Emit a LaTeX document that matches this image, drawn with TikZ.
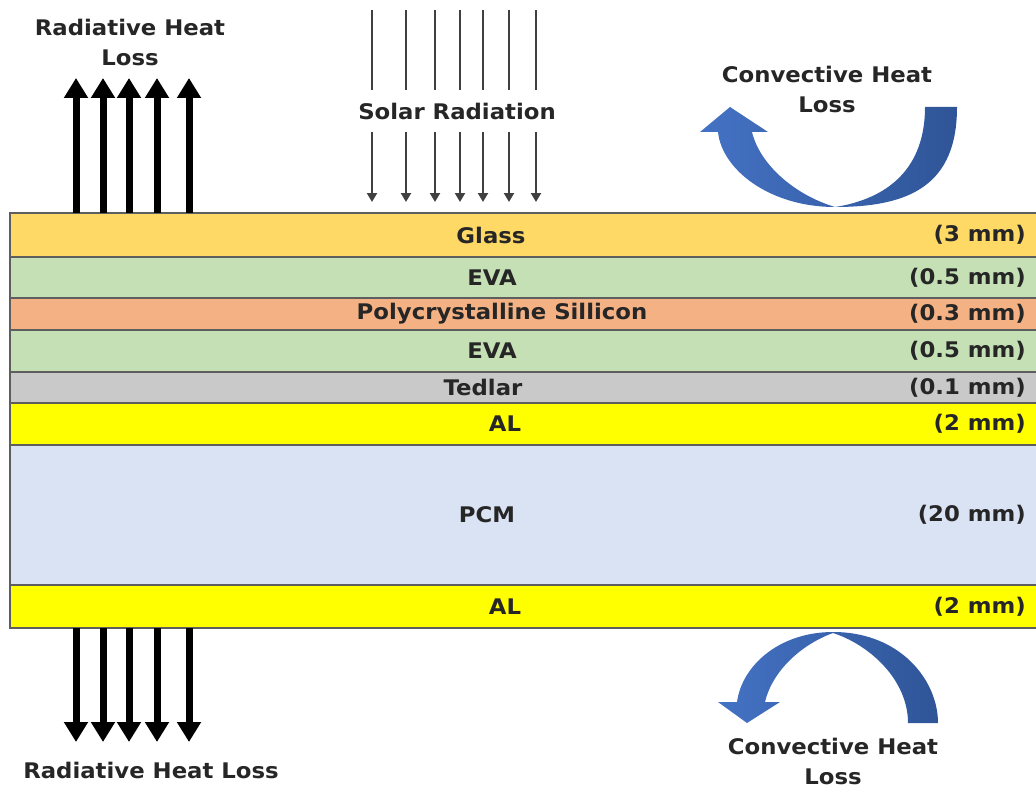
\documentclass[tikz,border=0pt]{standalone}
\usepackage{fontspec}
\setmainfont{DejaVu Sans}
\usetikzlibrary{arrows.meta,shapes,positioning}
\definecolor{glassC}{HTML}{FFD966}
\definecolor{evaC}{HTML}{C5E0B4}
\definecolor{polyC}{HTML}{F4B183}
\definecolor{tedlarC}{HTML}{C9C9C9}
\definecolor{alC}{HTML}{FFFF00}
\definecolor{pcmC}{HTML}{DAE3F3}
\definecolor{borderC}{HTML}{5E5E5E}
\definecolor{textC}{HTML}{262626}
\definecolor{solarC}{HTML}{404040}
\definecolor{convL}{HTML}{4472C4}
\definecolor{convR}{HTML}{2F5597}
\tikzstyle{layer}   = [rectangle, draw=borderC, line width=1.5pt, minimum width=1030pt,
    outer sep=0pt, inner sep=0pt]
\tikzstyle{lbl}     = [font=\bfseries\fontsize{21.5}{30}\selectfont, text=textC, inner sep=0pt,
    align=center, xscale=1.06]
\tikzstyle{radline} = [draw=black, line width=7pt, -{Triangle[width=23pt,length=20pt]}]
\tikzstyle{solline} = [draw=solarC, line width=2.5pt]
\tikzstyle{soltip}  = [solline, -{Triangle[width=10pt,length=9pt]}]
\tikzstyle{convect} = [left color=convL, right color=convR, draw=none]

\begin{document}
\begin{tikzpicture}[x=1pt,y=-1pt]
    \useasboundingbox (0,0) rectangle (1036,789);
    \clip (0,0) rectangle (1036,789);

    % Place layers
    \node [layer, fill=glassC, minimum height=44pt, anchor=north west] (glass) at (10,213) {};
    \node [layer, fill=evaC,    minimum height=41pt, below=0pt of glass] (evaA)   {};
    \node [layer, fill=polyC,   minimum height=32pt, below=0pt of evaA]  (poly)   {};
    \node [layer, fill=evaC,    minimum height=42pt, below=0pt of poly]  (evaB)   {};
    \node [layer, fill=tedlarC, minimum height=31pt, below=0pt of evaB]  (tedlar) {};
    \node [layer, fill=alC,     minimum height=42pt, below=0pt of tedlar] (alA)   {};
    \node [layer, fill=pcmC,    minimum height=140pt, below=0pt of alA]  (pcm)    {};
    \node [layer, fill=alC,     minimum height=43pt, below=0pt of pcm]   (alB)    {};

    % Layer names and thicknesses
    \foreach \lay/\x/\txt in {glass/491/Glass, evaA/492/EVA, poly/502/Polycrystalline Sillicon,
        evaB/492/EVA, tedlar/483/Tedlar, alA/505/AL, pcm/487/PCM, alB/505/AL}
        \node [lbl] (\lay Name) at (\x,1 |- \lay) {\txt};
    \foreach \lay/\sz in {glass/3 mm, evaA/0.5 mm, poly/0.3 mm, evaB/0.5 mm,
        tedlar/0.1 mm, alA/2 mm, pcm/20 mm, alB/2 mm}
        \node [lbl, anchor=east] (\lay Size) at (1026,1 |- \lay) {(\sz)};

    % Radiative heat loss
    \node [lbl] (radTop) at (130,42) {Radiative Heat\\Loss};
    \node [lbl] (radBot) at (151,770) {Radiative Heat Loss};
    \foreach \x [count=\i] in {76,103,129,157,189} {
        \coordinate (radUp\i) at (\x,78);
        \coordinate (radDown\i) at (\x,742);
        \path [radline] (radUp\i |- glass.north) -- (radUp\i);
        \path [radline] (radDown\i |- alB.south) -- (radDown\i);
    }

    % Solar radiation
    \node [lbl] (solar) at (457,111) {Solar Radiation};
    \foreach \x [count=\i] in {372,406,435,460,483,509,536} {
        \coordinate (solTop\i) at (\x,10);
        \coordinate (solMidA\i) at (\x,90);
        \coordinate (solMidB\i) at (\x,132);
        \coordinate (solEnd\i) at (\x,202);
        \path [solline] (solTop\i) -- (solMidA\i);
        \path [soltip] (solMidB\i) -- (solEnd\i);
    }

    % Convective heat loss
    \node [lbl] (convTop) at (827,89) {Convective Heat\\Loss};
    \node [lbl] (convBot) at (833,761) {Convective Heat\\Loss};
    \shade [convect] (957,107) .. controls (957,185) and (910,207) .. (835,207)
        .. controls (770,207) and (722,170) .. (718,132) -- (700,132) -- (730,107)
        -- (768,132) -- (752,132) .. controls (760,165) and (795,195) .. (835,207)
        .. controls (880,200) and (925,175) .. (925,107) -- cycle;
    \shade [convect] (938,723) .. controls (938,680) and (900,632) .. (833,632)
        .. controls (780,632) and (742,665) .. (737,702) -- (718,702) -- (747,723)
        -- (780,702) -- (765,702) .. controls (772,672) and (800,645) .. (833,633)
        .. controls (870,645) and (908,680) .. (908,723) -- cycle;
\end{tikzpicture}
\end{document}
